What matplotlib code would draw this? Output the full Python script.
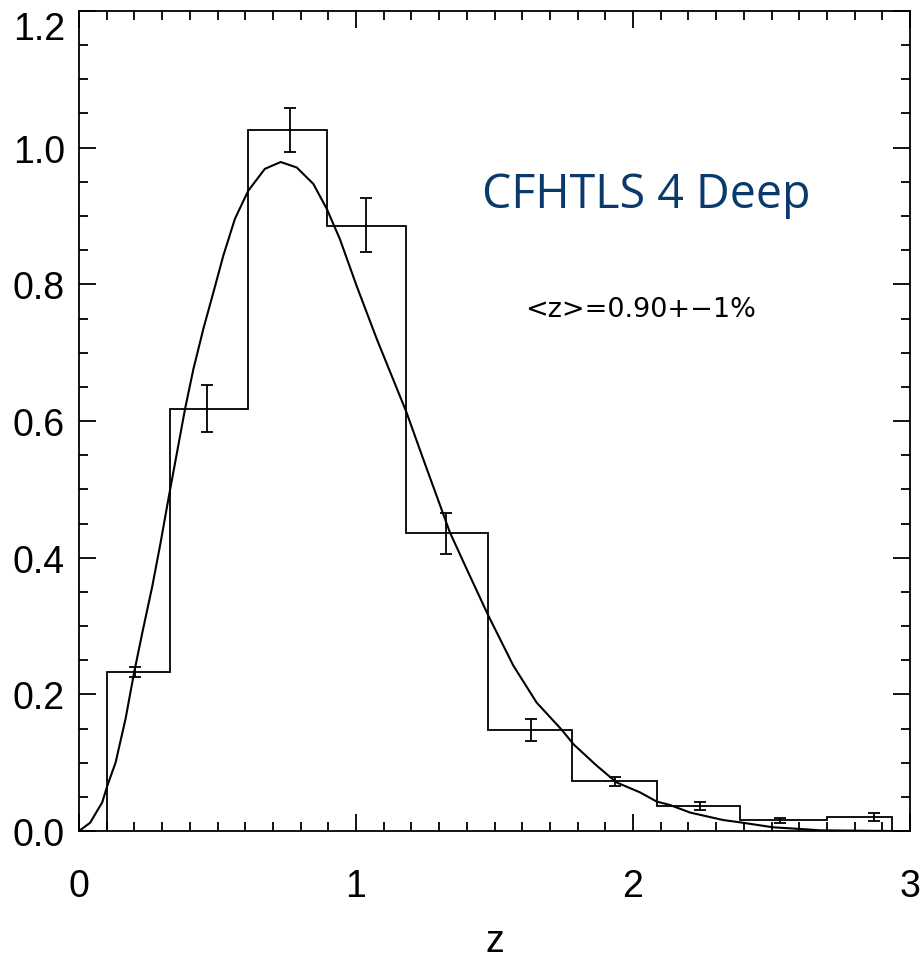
import numpy as np
import matplotlib
matplotlib.use("Agg")
import matplotlib.pyplot as plt
from matplotlib.ticker import MultipleLocator

# histogram (bin edges and heights)
bin_edges = [0.10, 0.33, 0.61, 0.895, 1.18, 1.476, 1.78, 2.085, 2.386, 2.70, 2.935]
bin_vals = [0.232, 0.617, 1.026, 0.886, 0.436, 0.148, 0.0732, 0.037, 0.016, 0.021]

# error bars
err_z = [0.202, 0.463, 0.76, 1.037, 1.324, 1.631, 1.935, 2.242, 2.531, 2.871]
err_mid = [0.233, 0.618, 1.026, 0.8865, 0.436, 0.1475, 0.0725, 0.0365, 0.015, 0.0205]
err_size = [0.007, 0.034, 0.032, 0.0395, 0.030, 0.0165, 0.007, 0.0056, 0.0035, 0.0055]

# fitted n(z) curve
curve_z = [0.0, 0.04, 0.084, 0.102, 0.132, 0.168, 0.199, 0.229, 0.265, 0.295,
           0.325, 0.352, 0.383, 0.413, 0.449, 0.485, 0.521, 0.563, 0.611, 0.671,
           0.728, 0.786, 0.846, 0.895, 0.942, 1.002, 1.075, 1.182, 1.243, 1.339,
           1.400, 1.478, 1.568, 1.652, 1.743, 1.785, 1.869, 1.941, 2.025, 2.086,
           2.134, 2.206, 2.326, 2.386, 2.506, 2.603, 2.675, 2.80, 2.935]
curve_p = [0.0, 0.012, 0.042, 0.066, 0.100, 0.164, 0.232, 0.291, 0.359, 0.423,
           0.491, 0.55, 0.618, 0.676, 0.735, 0.788, 0.842, 0.896, 0.937, 0.969,
           0.979, 0.971, 0.947, 0.910, 0.866, 0.798, 0.720, 0.613, 0.544, 0.437,
           0.383, 0.315, 0.242, 0.188, 0.148, 0.127, 0.0956, 0.071, 0.0566, 0.043,
           0.038, 0.027, 0.016, 0.0127, 0.0054, 0.003, 0.001, 0.0005, 0.0]

y_ticks = [0.0, 0.2, 0.4, 0.6, 0.8, 1.0, 1.2]
y_labels = ['0.0', '0.2', '0.4', '0.6', '0.8', '1.0', '1.2']

tick_font = ['Liberation Sans', 'DejaVu Sans']

fig = plt.figure(figsize=(9.22, 9.62), dpi=100)
ax = fig.add_axes([79 / 922, 130 / 962, 831 / 922, 820 / 962])

ax.stairs(bin_vals, bin_edges, color='black', linewidth=1.3)
ax.errorbar(err_z, err_mid, yerr=err_size, fmt='none', ecolor='black',
            elinewidth=1.3, capsize=4, capthick=1.3)
ax.plot(curve_z, curve_p, color='black', linewidth=1.5)

ax.set_xlim(0, 3)
ax.set_ylim(0, 1.2)
ax.xaxis.set_major_locator(MultipleLocator(1))
ax.xaxis.set_minor_locator(MultipleLocator(0.1))
ax.set_yticks(y_ticks, y_labels)
ax.yaxis.set_minor_locator(MultipleLocator(0.05))

ax.tick_params(which='both', direction='in', top=True, right=True, width=1.3)
ax.tick_params(which='major', length=12)
ax.tick_params(which='minor', length=6.5)
ax.tick_params(axis='x', which='major', pad=27)
ax.tick_params(axis='y', which='major', pad=10)
for sp in ax.spines.values():
    sp.set_linewidth(1.3)

for lab in ax.get_xticklabels() + ax.get_yticklabels():
    lab.set_family(tick_font)
    lab.set_fontsize(27)
# top label sits lower so it stays inside the figure
for lab in ax.get_yticklabels():
    if lab.get_text() == '1.2':
        lab.set_va('top')

ax.set_xlabel('z', family=tick_font, fontsize=27)
ax.xaxis.set_label_coords(0.5, -0.1463)
ax.xaxis.label.set_va('baseline')

ax.text(2.047, 0.932, 'CFHTLS 4 Deep', color='#0a3a6b', fontsize=33.5,
        family=['Open Sans', 'DejaVu Sans'], ha='center', va='center')
ax.text(2.029, 0.764, '<z>=0.90+\u22121%', color='black', fontsize=19.5,
        family=['DejaVu Sans'], ha='center', va='center')

fig.savefig('out.png', dpi=100)
